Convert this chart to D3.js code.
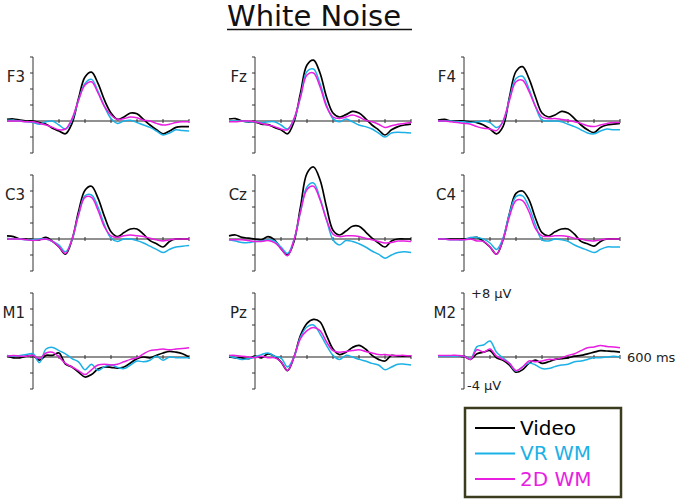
<!DOCTYPE html>
<meta charset="utf-8">
<body style="margin:0;background:#fff">

<svg width='677' height='499'></svg>

<script type="text/javascript" src="https://d3js.org/d3.v7.min.js"></script>
<script>

// time grid (ms) shared by every trace
var times = [-100,-75,-50,-25,0,25,50,75,100,125,150,175,200,225,250,275,300,325,350,375,400,425,450,475,500,525,550,575,600];

var channels = ["F3","Fz","F4","C3","Cz","C4","M1","Pz","M2"];
var conditions = ["Video","VR WM","2D WM"];
var colors = ["#000000","#1cb1e6","#e81ee0"];

var yTicks = [-4,-2,0,2,4,6,8];
var xTicks = [100,200,300,400,500,600];

// amplitudes in microvolts
var F3_video = [0.2,0.25,0.1,0,0,-0.2,-0.4,-0.9,-1.25,-1.6,-0.3,2.8,5.5,6.1,4.7,2.6,1.0,0.2,0.5,1.0,0.9,0.2,-0.5,-1.1,-1.6,-1.25,-0.8,-0.7,-0.7];
var F3_vr    = [0.1,0.1,0,-0.1,-0.2,-0.4,-0.1,0,-0.5,-1.0,0.1,2.6,4.7,5.2,3.7,1.8,0.3,-0.3,0,0.1,-0.2,-0.5,-0.8,-1.25,-1.75,-1.5,-1.1,-1.2,-1.25];
var F3_2d    = [0,0,0,-0.1,-0.1,-0.3,-0.5,-0.8,-1.1,-1.0,0.3,2.6,4.5,4.9,3.5,1.8,0.75,0.2,0.3,0.5,0.4,0.1,0,-0.3,-0.5,-0.4,-0.2,-0.1,-0.1];

var Fz_video = [0.25,0.3,0,-0.1,-0.1,-0.4,-0.45,-0.8,-1.1,-1.6,-0.1,3.5,7.0,7.6,6.0,3.0,1.0,0.5,0.8,1.2,1.0,0.3,-0.5,-1.1,-1.75,-1.1,-0.7,-0.5,-0.4];
var Fz_vr    = [0,0,0,-0.1,-0.1,-0.2,-0.1,-0.1,-0.5,-1.0,0.2,3.0,6.2,6.5,4.7,2.0,0.3,-0.1,0.25,-0.1,-0.5,-0.7,-1.0,-1.5,-2.0,-1.5,-1.4,-1.45,-1.5];
var Fz_2d    = [-0.1,-0.1,0,0,-0.1,-0.3,-0.5,-0.7,-1.0,-1.1,0.3,3.0,5.75,6.0,4.3,1.8,0.5,0.3,0.5,0.75,0.5,0.1,-0.1,-0.4,-0.8,-0.6,-0.4,-0.3,-0.2];

var F4_video = [0.1,0.2,0,0,0,-0.1,-0.2,-0.5,-1.0,-1.6,-0.7,3.0,6.2,6.8,5.3,3.0,1.0,0.5,0.75,1.2,1.0,0.3,-0.5,-1.1,-1.45,-0.8,-0.5,-0.4,-0.3];
var F4_vr    = [0,0,0,-0.1,-0.1,-0.2,-0.1,0,-0.2,-0.8,-0.1,2.8,5.3,5.6,4.0,1.8,0.1,0,0,-0.1,-0.4,-0.7,-1.1,-1.5,-1.6,-1.25,-1.0,-1.1,-1.1];
var F4_2d    = [0,0,-0.1,-0.2,-0.3,-0.4,-0.7,-0.9,-1.0,-1.2,0,2.6,4.9,5.1,3.7,1.8,0.5,0.3,0.3,0.2,0.1,-0.1,-0.3,-0.6,-0.7,-0.5,-0.3,-0.2,-0.2];

var C3_video = [0.4,0.3,0,0,-0.1,-0.1,0.2,-0.3,-1.0,-1.9,-0.1,3.4,6.1,6.6,5.1,2.8,0.9,0.3,0.8,1.25,1.25,0.6,-0.2,-0.6,-1.0,-0.3,0,0,0];
var C3_vr    = [0.1,0,0,-0.1,-0.1,0,0,-0.3,-0.75,-1.6,-0.1,3.0,5.4,5.5,4.0,1.75,0.1,-0.3,0,0,-0.2,-0.5,-0.9,-1.3,-1.7,-1.3,-1.0,-0.9,-0.8];
var C3_2d    = [0,0,0,-0.1,-0.2,-0.1,0,-0.3,-1.0,-1.8,0,3.0,5.2,5.2,3.6,1.5,0.4,0.2,0.4,0.5,0.4,0.3,0.1,-0.1,-0.25,-0.1,0,0,0];

var Cz_video = [0.4,0.5,0.2,0.1,0,-0.1,0.3,-0.1,-1.2,-2.0,-0.3,4.0,8.2,9.0,7.4,4.0,1.1,0.5,1.0,1.6,1.6,0.9,0.1,-0.5,-1.0,-0.25,0,0,0];
var Cz_vr    = [-0.1,-0.25,-0.45,-0.45,-0.3,-0.25,-0.1,-0.25,-1.0,-1.8,-0.1,3.4,6.5,7.0,5.1,2.4,-0.1,-0.75,-0.2,-0.3,-0.6,-1.0,-1.5,-1.9,-2.4,-2.0,-1.7,-1.6,-1.7];
var Cz_2d    = [-0.1,-0.1,-0.1,-0.2,-0.3,-0.3,-0.2,-0.45,-1.2,-2.1,-0.1,3.4,6.2,6.6,4.9,2.4,0.6,0.3,0.4,0.4,0.3,0.1,-0.1,-0.3,-0.5,-0.45,-0.25,-0.25,-0.3];

var C4_video = [0,0,0,0,0,0.1,0.2,-0.3,-1.0,-1.9,-0.1,3.2,5.7,6.0,4.9,2.6,0.8,0.4,0.9,1.25,1.25,0.6,-0.3,-0.6,-0.9,-0.3,0,0,0];
var C4_vr    = [0,0,-0.1,-0.1,-0.1,0.2,0.2,0,-0.5,-1.3,0.1,3.2,5.3,5.4,4.0,1.75,-0.1,-0.25,0,-0.1,-0.3,-0.75,-1.1,-1.4,-1.7,-1.3,-1.0,-1.0,-1.0];
var C4_2d    = [0,0,-0.1,-0.1,-0.1,0,-0.25,-0.3,-1.0,-1.9,-0.1,2.8,4.8,4.8,3.4,1.3,0.4,0.3,0.4,0.4,0.3,0.1,0,-0.2,-0.25,-0.1,0,0,0];

var M1_video = [0.1,-0.1,-0.1,0.1,0.2,-0.4,0.2,0.2,0.5,-0.9,-1.25,-1.9,-2.5,-2.2,-1.5,-1.25,-1.3,-1.4,-1.25,-0.75,-0.2,0,-0.1,0.2,0.5,0.7,0.6,0.4,0];
var M1_vr    = [0.2,0.1,0.2,0.3,0.4,-0.7,1.0,1.2,0.8,0.4,-0.2,-0.6,-1.6,-0.9,-1.7,-1.2,-1.0,-1.3,-1.45,-1.0,-0.5,-0.6,-0.4,0.1,-0.4,0,-0.1,-0.1,-0.1];
var M1_2d    = [0.1,0.2,0.1,0.1,0.2,-0.2,0.5,0.6,0,-0.8,-1.25,-1.7,-2.2,-1.6,-1.0,-0.9,-1.0,-0.9,-0.6,-0.3,-0.1,0.4,0.8,0.9,1.0,0.9,1.0,1.05,1.15];

var Pz_video = [0,-0.1,-0.1,-0.2,0.1,-0.1,0.4,0.1,-0.6,-1.7,0,2.7,4.2,4.7,4.4,2.7,1.0,0.3,0.6,1.2,1.45,1.0,0.2,-0.3,-0.5,0.2,0.1,0.1,0.1];
var Pz_vr    = [0.1,-0.1,-0.3,-0.2,0,0.3,0.5,0.1,-0.1,-1.25,0,2.5,3.75,4.0,2.9,1.45,0.2,-0.3,0.2,0,-0.3,-0.5,-0.8,-1.0,-1.6,-1.25,-0.9,-0.9,-1.0];
var Pz_2d    = [0.2,0.2,0.1,0,-0.1,0.1,-0.1,-0.1,-0.6,-1.7,0,2.3,3.3,3.7,3.3,1.9,0.8,0.6,0.7,0.8,0.9,0.7,0.5,0.3,0.3,0.2,0.2,0.2,0.15];

var M2_video = [0.1,0.1,0.1,0.1,0.1,-0.3,0.4,0.6,0.8,-0.1,-0.4,-1.0,-1.9,-1.6,-0.8,-0.4,-0.8,-0.6,-0.3,-0.2,-0.1,0.1,0.2,0.4,0.6,0.8,0.75,0.7,0.6];
var M2_vr    = [0.1,0.1,0.1,0.1,0.1,-0.2,1.3,1.5,2.0,0.6,-0.1,-0.8,-1.75,-1.25,-0.75,-1.0,-1.45,-1.45,-1.2,-1.0,-0.9,-0.6,-0.5,-0.3,-0.1,-0.1,0,0.1,0];
var M2_2d    = [0.2,0.2,0.2,0.2,0.1,-0.3,0.9,0.6,1.0,0.1,-0.3,-0.8,-1.7,-1.25,-0.5,-0.6,-0.5,-0.3,-0.3,-0.1,0.2,0.4,0.8,1.15,1.25,1.45,1.3,1.25,1.15];

var traces = {
  F3: [F3_video, F3_vr, F3_2d], Fz: [Fz_video, Fz_vr, Fz_2d], F4: [F4_video, F4_vr, F4_2d],
  C3: [C3_video, C3_vr, C3_2d], Cz: [Cz_video, Cz_vr, Cz_2d], C4: [C4_video, C4_vr, C4_2d],
  M1: [M1_video, M1_vr, M1_2d], Pz: [Pz_video, Pz_vr, Pz_2d], M2: [M2_video, M2_vr, M2_2d]
};

var svg = d3.select('svg');
var font = "'DejaVu Sans', sans-serif";

// title
svg.append('text')
  .attr('x', 227).attr('y', 26)
  .attr('font-family', font).attr('font-size', 29)
  .attr('fill', '#111')
  .text('White Noise');
svg.append('line')
  .attr('x1', 227).attr('x2', 412).attr('y1', 29.5).attr('y2', 29.5)
  .attr('stroke', '#111').attr('stroke-width', 1.6);

var colX = [33, 255, 464];     // x of 0 ms in each column
var rowZero = [121, 239, 357]; // y of 0 uV in each row

channels.forEach(function(ch, i) {
  var x0 = colX[i % 3], y0 = rowZero[Math.floor(i / 3)];
  var x = d3.scaleLinear().domain([-100, 600]).range([x0 - 26, x0 + 156]);
  var y = d3.scaleLinear().domain([-4, 8]).range([y0 + 32, y0 - 64]);

  var g = svg.append('g');

  // vertical axis
  g.append('line')
    .attr('x1', x(0)).attr('x2', x(0))
    .attr('y1', y(-4)).attr('y2', y(8))
    .attr('stroke', '#333').attr('stroke-width', 1);
  g.selectAll('.yt').data(yTicks).enter().append('line')
    .attr('x1', x(0) - 3).attr('x2', x(0))
    .attr('y1', function(d) { return y(d); })
    .attr('y2', function(d) { return y(d); })
    .attr('stroke', '#333').attr('stroke-width', 1);

  // horizontal axis
  g.append('line')
    .attr('x1', x(-100)).attr('x2', x(600))
    .attr('y1', y(0)).attr('y2', y(0))
    .attr('stroke', '#222').attr('stroke-width', 1);
  g.selectAll('.xt').data(xTicks).enter().append('line')
    .attr('x1', function(d) { return x(d); })
    .attr('x2', function(d) { return x(d); })
    .attr('y1', y(0) - 2).attr('y2', y(0) + 2)
    .attr('stroke', '#333').attr('stroke-width', 1);

  // channel name
  g.append('text')
    .attr('x', x(0) - 8).attr('y', y0 - 39)
    .attr('text-anchor', 'end')
    .attr('font-family', font).attr('font-size', 15)
    .attr('fill', '#222')
    .text(ch);

  var line = d3.line()
    .x(function(d, j) { return x(times[j]); })
    .y(function(d) { return y(d); })
    .curve(d3.curveCatmullRom.alpha(0.5));

  traces[ch].forEach(function(vals, k) {
    g.append('path')
      .attr('d', line(vals))
      .attr('fill', 'none')
      .attr('stroke', colors[k])
      .attr('stroke-width', k === 0 ? 1.7 : 1.5);
  });

  // scale annotation on the last panel
  if (ch === 'M2') {
    g.append('text').attr('x', x(0) + 7).attr('y', y(8) + 5)
      .attr('font-family', font).attr('font-size', 13).attr('fill', '#222')
      .text('+8 \u00b5V');
    g.append('text').attr('x', x(0) + 3).attr('y', y(-4) + 1)
      .attr('font-family', font).attr('font-size', 13).attr('fill', '#222')
      .text('-4 \u00b5V');
    g.append('text').attr('x', x(600) + 7).attr('y', y(0) + 5)
      .attr('font-family', font).attr('font-size', 13).attr('fill', '#222')
      .text('600 ms');
  }
});

// legend
var legend = svg.append('g');
legend.append('rect')
  .attr('x', 465).attr('y', 408).attr('width', 156).attr('height', 89)
  .attr('fill', '#fff').attr('stroke', '#3b3b1e').attr('stroke-width', 2.5);

conditions.forEach(function(c, k) {
  var ly = 428 + k * 25.5;
  legend.append('line')
    .attr('x1', 475).attr('x2', 515).attr('y1', ly).attr('y2', ly)
    .attr('stroke', colors[k]).attr('stroke-width', 2);
  legend.append('text')
    .attr('x', 520).attr('y', ly + 6.5)
    .attr('font-family', font).attr('font-size', 20)
    .attr('fill', colors[k])
    .text(c);
});

</script>
